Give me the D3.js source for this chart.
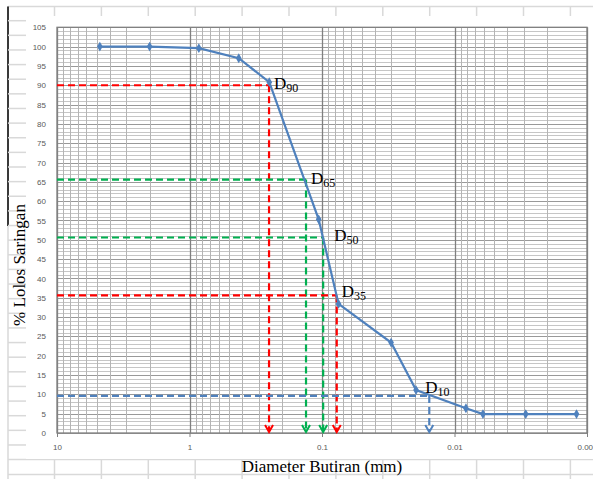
<!DOCTYPE html>
<html>
<head>
<meta charset="utf-8">
<script src="https://cdn.jsdelivr.net/npm/d3@7"></script>
<style>
  html, body { margin: 0; padding: 0; background: #fff; }
  svg { display: block; }
</style>
</head>
<body>
<svg id="chart" width="593" height="479"></svg>
<script>
// ---------- DATA ----------
const diameters = [4.75, 2.0, 0.85, 0.425, 0.25, 0.106, 0.075, 0.0301, 0.0195, 0.0082, 0.0061, 0.0029, 0.0012];
const passing   = [100, 100, 99.6, 97.0, 90.8, 55.3, 33.4, 23.4, 11.1, 6.4, 4.9, 4.9, 4.9];

const refNames     = ["D90", "D65", "D50", "D35", "D10"];
const refMain      = ["D", "D", "D", "D", "D"];
const refSub       = ["90", "65", "50", "35", "10"];
const refPercent   = [90, 65.6, 50.6, 35.6, 9.6];
const refDiameter  = [0.251, 0.132, 0.098, 0.0774, 0.0155];

const xTickValues = [10, 1, 0.1, 0.01, 0.001];
const xTickLabels = ["10", "1", "0.1", "0.01", "0.001"];
const yTickValues = [0, 5, 10, 15, 20, 25, 30, 35, 40, 45, 50, 55, 60, 65, 70, 75, 80, 85, 90, 95, 100, 105];

const xTitle = "Diameter Butiran (mm)";
const yTitle = "% Lolos Saringan";

// ---------- STYLE / LAYOUT ----------
const refColors  = ["#ff0000", "#00b050", "#00b050", "#ff0000", "#4f81bd"];
const labelOffsets = [[5, 4], [5, 4], [11, 4], [5, 2], [-4, -3]];
const lineColor = "#4f81bd";

const svg = d3.select("#chart");
const plot = { left: 57, right: 587, top: 27.3, bottom: 433 };

const x = d3.scaleLog().domain([10, 0.001]).range([plot.left, plot.right]);
const y = d3.scaleLinear().domain([0, 105]).range([plot.bottom, plot.top]);

// spreadsheet background ghost grid
const bg = svg.append("g");
const sheetGrey = "#d9d9d9";
bg.append("line").attr("x1", 8).attr("x2", 593).attr("y1", 6.5).attr("y2", 6.5)
  .attr("stroke", sheetGrey).attr("stroke-width", 1.5);
bg.append("line").attr("x1", 8).attr("x2", 8).attr("y1", 6.5).attr("y2", 479)
  .attr("stroke", sheetGrey).attr("stroke-width", 1.5);
bg.append("line").attr("x1", 8).attr("x2", 8).attr("y1", 6.5).attr("y2", 226)
  .attr("stroke", "#000").attr("stroke-width", 1.5);
const colX = d3.range(0, 12).map(i => 54.5 + i * 46.9);
bg.selectAll(".ct").data(colX).join("line")
  .attr("x1", d => d).attr("x2", d => d).attr("y1", 6.5).attr("y2", 16)
  .attr("stroke", sheetGrey).attr("stroke-width", 1.5);
bg.selectAll(".cb").data(colX).join("line")
  .attr("x1", d => d).attr("x2", d => d).attr("y1", 459.5).attr("y2", 479)
  .attr("stroke", sheetGrey).attr("stroke-width", 1.5);
bg.selectAll(".hb").data([459.5, 474.5]).join("line")
  .attr("x1", 8).attr("x2", 593).attr("y1", d => d).attr("y2", d => d)
  .attr("stroke", sheetGrey).attr("stroke-width", 1.5);
const rowY = d3.range(0, 30).map(i => 20.7 + i * 14.63);
bg.selectAll(".rl").data(rowY).join("line")
  .attr("x1", 8).attr("x2", 26).attr("y1", d => d).attr("y2", d => d)
  .attr("stroke", sheetGrey).attr("stroke-width", 1.5);

// chart area
svg.append("rect").attr("x", 26).attr("y", 16).attr("width", 567).attr("height", 443)
  .attr("fill", "#fff");

// grid
const grid = svg.append("g");
const hVals = d3.range(0, 106, 1);
grid.selectAll(".hg").data(hVals).join("line")
  .attr("x1", plot.left).attr("x2", plot.right)
  .attr("y1", d => Math.round(y(d)) + 0.5).attr("y2", d => Math.round(y(d)) + 0.5)
  .attr("stroke", d => d % 5 === 0 ? "#999999" : "#c6c6c6").attr("stroke-width", 1);
const vVals = [];
[1, 0.1, 0.01, 0.001].forEach(dec => { for (let k = 2; k <= 9; k++) vVals.push(dec * k); });
grid.selectAll(".vg").data(vVals).join("line")
  .attr("x1", d => Math.round(x(d)) + 0.5).attr("x2", d => Math.round(x(d)) + 0.5)
  .attr("y1", plot.top).attr("y2", plot.bottom)
  .attr("stroke", "#b4b4b4").attr("stroke-width", 1);
grid.selectAll(".vm").data(xTickValues).join("line")
  .attr("x1", d => Math.round(x(d)) + 0.5).attr("x2", d => Math.round(x(d)) + 0.5)
  .attr("y1", plot.top).attr("y2", plot.bottom)
  .attr("stroke", "#808080").attr("stroke-width", 1.3);
grid.append("rect").attr("x", plot.left).attr("y", plot.top)
  .attr("width", plot.right - plot.left).attr("height", plot.bottom - plot.top)
  .attr("fill", "none").attr("stroke", "#808080").attr("stroke-width", 1.3);

// axes
const yAxis = svg.append("g").attr("transform", `translate(${plot.left},0)`)
  .call(d3.axisLeft(y).tickValues(yTickValues).tickSize(0).tickPadding(11).tickFormat(d3.format("d")));
yAxis.select(".domain").remove();
yAxis.selectAll("text").attr("font-family", "Liberation Sans, Arial, sans-serif")
  .attr("font-size", 8).attr("fill", "#595959");

const xAxis = svg.append("g").attr("transform", `translate(0,${plot.bottom})`)
  .call(d3.axisBottom(x).tickValues(xTickValues).tickSize(4).tickPadding(7)
    .tickFormat((d, i) => xTickLabels[i]));
xAxis.select(".domain").remove();
xAxis.selectAll("line").attr("stroke", "#808080");
xAxis.selectAll("text").attr("font-family", "Liberation Sans, Arial, sans-serif")
  .attr("font-size", 8).attr("fill", "#595959");

// reference dashed lines
const refs = refNames.map((n, i) => ({ i, p: refPercent[i], d: refDiameter[i], c: refColors[i] }));
const rg = svg.append("g");
refs.forEach(r => {
  const xx = x(r.d), yy = y(r.p);
  rg.append("line").attr("x1", plot.left).attr("x2", xx).attr("y1", yy).attr("y2", yy)
    .attr("stroke", r.c).attr("stroke-width", 2.2).attr("stroke-dasharray", "7,4");
  rg.append("line").attr("x1", xx).attr("x2", xx).attr("y1", yy).attr("y2", plot.bottom - 2)
    .attr("stroke", r.c).attr("stroke-width", 2.2).attr("stroke-dasharray", "7,4");
  rg.append("path")
    .attr("d", `M${xx - 4},${plot.bottom - 8} L${xx},${plot.bottom - 1} L${xx + 4},${plot.bottom - 8}`)
    .attr("fill", "none").attr("stroke", r.c).attr("stroke-width", 2);
});

// gradation curve
const pts = diameters.map((d, i) => ({ d, p: passing[i] }));
svg.append("path").datum(pts)
  .attr("d", d3.line().x(d => x(d.d)).y(d => y(d.p)))
  .attr("fill", "none").attr("stroke", lineColor).attr("stroke-width", 2.2);
svg.selectAll(".mk").data(pts).join("path")
  .attr("transform", d => `translate(${x(d.d)},${y(d.p)})`)
  .attr("d", d3.symbol().type(d3.symbolDiamond).size(28))
  .attr("fill", lineColor);

// D labels
refs.forEach(r => {
  const xx = x(r.d) + labelOffsets[r.i][0], yy = y(r.p) + labelOffsets[r.i][1];
  const t = svg.append("text").attr("x", xx).attr("y", yy)
    .attr("font-family", "Liberation Serif, Times New Roman, serif").attr("fill", "#000");
  t.append("tspan").attr("font-size", 17).text(refMain[r.i]);
  t.append("tspan").attr("font-size", 12).attr("dy", 3).text(refSub[r.i]);
});

// titles
svg.append("text").attr("x", 322).attr("y", 472).attr("text-anchor", "middle")
  .attr("font-family", "Liberation Serif, Times New Roman, serif").attr("font-size", 17)
  .attr("fill", "#000").text(xTitle);
svg.append("text").attr("transform", "translate(25,265) rotate(-90)").attr("text-anchor", "middle")
  .attr("font-family", "Liberation Serif, Times New Roman, serif").attr("font-size", 17)
  .attr("fill", "#000").text(yTitle);
</script>
</body>
</html>
